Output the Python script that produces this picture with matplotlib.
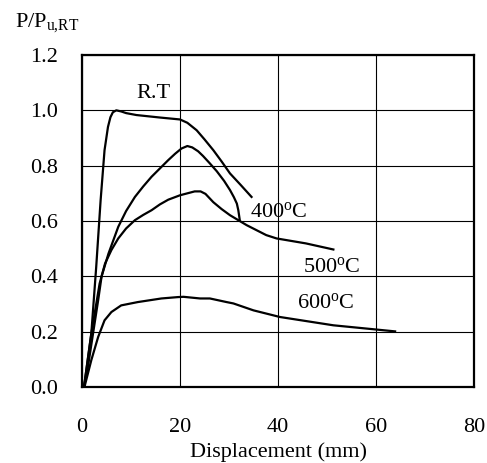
import matplotlib
matplotlib.use("Agg")
import matplotlib.pyplot as plt

plt.rcParams['font.family'] = ['Liberation Serif', 'DejaVu Serif']
plt.rcParams['mathtext.fontset'] = 'custom'
plt.rcParams['mathtext.rm'] = 'Liberation Serif'
plt.rcParams['mathtext.it'] = 'Liberation Serif:italic'

# Data (displacement in mm, normalized load)
rt_x = [0.4, 0.7, 1.9, 2.9, 3.8, 4.6, 5.3, 5.8, 6.3, 7.0, 8.0, 9.0, 11.1, 15.9, 20.0, 21.5, 23.4, 25.0, 26.8, 28.5, 30.2, 32.4, 34.6]
rt_y = [0.0, 0.036, 0.193, 0.434, 0.675, 0.856, 0.94, 0.975, 0.993, 1.0, 0.996, 0.99, 0.983, 0.974, 0.967, 0.955, 0.928, 0.895, 0.856, 0.815, 0.772, 0.73, 0.687]

t400_x = [0.4, 1.2, 3.3, 4.0, 5.4, 7.4, 9.0, 10.8, 12.5, 14.2, 15.9, 17.6, 19.0, 20.3, 21.5, 22.5, 23.7, 24.7, 26.0, 27.5, 29.0, 30.2, 31.0, 31.6, 31.9, 32.2]
t400_y = [0.0, 0.072, 0.314, 0.40, 0.482, 0.579, 0.636, 0.687, 0.725, 0.76, 0.79, 0.82, 0.843, 0.862, 0.871, 0.866, 0.852, 0.835, 0.81, 0.78, 0.745, 0.712, 0.686, 0.663, 0.639, 0.603]

t500_x = [0.4, 1.9, 3.6, 4.7, 6.0, 7.4, 9.0, 10.8, 12.5, 14.2, 15.9, 17.6, 20.0, 21.5, 23.0, 24.2, 25.2, 26.8, 28.5, 30.2, 33.6, 37.6, 39.7, 45.7, 51.3]
t500_y = [0.0, 0.193, 0.374, 0.446, 0.495, 0.537, 0.573, 0.603, 0.622, 0.639, 0.66, 0.677, 0.693, 0.70, 0.707, 0.707, 0.698, 0.668, 0.643, 0.621, 0.585, 0.549, 0.537, 0.519, 0.497]

t600_x = [0.5, 1.9, 3.3, 4.6, 6.0, 8.0, 11.4, 16.2, 19.6, 20.7, 24.1, 26.1, 29.5, 30.9, 35.0, 40.4, 51.3, 63.9]
t600_y = [0.0, 0.097, 0.181, 0.241, 0.271, 0.295, 0.307, 0.32, 0.325, 0.326, 0.32, 0.32, 0.307, 0.302, 0.277, 0.253, 0.223, 0.201]

xticks = [0, 20, 40, 60, 80]
yticks = [0.0, 0.2, 0.4, 0.6, 0.8, 1.0, 1.2]

fig = plt.figure(figsize=(4.87, 4.63), dpi=100)
ax = fig.add_axes([82/487, 76/463, 392/487, 332/463])

for xs, ys in [(rt_x, rt_y), (t400_x, t400_y), (t500_x, t500_y), (t600_x, t600_y)]:
    ax.plot(xs, ys, color='black', lw=1.6, zorder=3, solid_joinstyle='round')

ax.set_xlim(0, 80)
ax.set_ylim(0, 1.2)
ax.set_xticks(xticks)
ax.set_yticks(yticks)
ax.set_xticklabels([str(v) for v in xticks])
ax.set_yticklabels([f"{v:.1f}" for v in yticks])
ax.tick_params(length=0, labelsize=16)
ax.tick_params(axis='x', pad=22)
ax.tick_params(axis='y', pad=17)
ax.grid(True, color='black', lw=0.8)
for s in ax.spines.values():
    s.set_linewidth(1.6)
    s.set_color('black')

ax.set_xlabel('Displacement (mm)', fontsize=16, labelpad=4)

fs = 16
ax.text(14.5, 1.06, 'R.T', fontsize=fs, ha='center', va='center')
ax.text(34.3, 0.632, r'400$^{\rm o}$C', fontsize=fs, ha='left', va='center')
ax.text(45.1, 0.433, r'500$^{\rm o}$C', fontsize=fs, ha='left', va='center')
ax.text(43.9, 0.302, r'600$^{\rm o}$C', fontsize=fs, ha='left', va='center')

fig.text(15/487, 1 - 23/463, r'P/P$_{\rm u{,}RT}$', fontsize=16, ha='left', va='center')

fig.savefig('out.png', dpi=100)
